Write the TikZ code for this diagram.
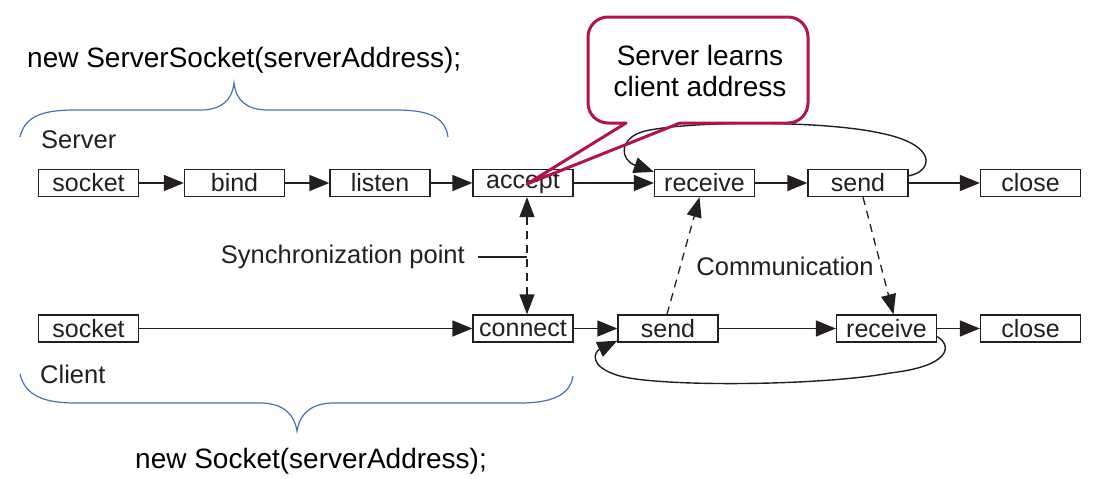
\documentclass[tikz,border=0pt]{standalone}
\usepackage{fontspec}
\setmainfont{Liberation Sans}
\usetikzlibrary{arrows.meta}
\definecolor{ink}{RGB}{35,31,32}
\definecolor{bracecol}{RGB}{68,114,180}
\definecolor{calloutred}{RGB}{178,20,70}
\begin{document}
\begin{tikzpicture}[x=1pt,y=-1pt,
  box/.style={draw=ink, line width=1.3pt, minimum width=100pt, minimum height=27pt, inner sep=0pt, font=\fontsize{25}{28}\selectfont, text=ink},
  flow/.style={ink, line width=1.4pt, -{Triangle[length=20pt,width=16pt]}},
  dflow/.style={ink, line width=1.3pt, dash pattern=on 8pt off 6pt},
  dtip/.tip={Triangle[length=20pt,width=15pt]},
  lbl/.style={font=\fontsize{25.5}{28}\selectfont, text=ink, inner sep=0pt},
  big/.style={font=\fontsize{28}{32}\selectfont, text=black, inner sep=0pt},
  bracestyle/.style={bracecol, line width=1.2pt},
  callout/.style={calloutred, line width=3pt, line join=round},
]
\useasboundingbox (0,0) rectangle (1109,479);

% titles
\node[big, anchor=base west] (ttop) at (27,67) {new ServerSocket(serverAddress);};
\node[big, anchor=base west] (tbot) at (135,468) {new Socket(serverAddress);};

% braces
\draw[bracestyle] (20,137) .. controls (25,115) and (45,110) .. (75,110) -- (200,110)
  .. controls (222,110) and (232,100) .. (234,83)
  .. controls (236,100) and (246,110) .. (268,110) -- (395,110)
  .. controls (425,110) and (445,115) .. (448,137);
\draw[bracestyle] (20,374) .. controls (25,396) and (45,403) .. (75,403) -- (260,403)
  .. controls (282,403) and (294,413) .. (297,431)
  .. controls (300,413) and (312,403) .. (334,403) -- (520,403)
  .. controls (550,403) and (570,396) .. (573,376);

% side labels
\node[lbl, anchor=base west] (lserver) at (41,148) {Server};
\node[lbl, anchor=base west] (lclient) at (40,383) {Client};

% server row
\node[box] (ssock) at (88.5,183) {socket};
\node[box] (sbind) at (234.5,183) {bind};
\node[box] (slisten) at (380,183) {listen};
\node[box] (saccept) at (523,183) {accept};
\node[box] (srecv) at (704.5,183) {receive};
\node[box] (ssend) at (858,183) {send};
\node[box] (sclose) at (1030.5,183) {close};

% client row
\node[box] (csock) at (88.5,328.5) {socket};
\node[box] (cconn) at (523,328.5) {connect};
\node[box] (csend) at (668,328.5) {send};
\node[box] (crecv) at (886.5,328.5) {receive};
\node[box] (cclose) at (1030.5,328.5) {close};

% server flow
\draw[flow] (ssock) -- (sbind);
\draw[flow] (sbind) -- (slisten);
\draw[flow] (slisten) -- (saccept);
\draw[flow] (saccept) -- (srecv);
\draw[flow] (srecv) -- (ssend);
\draw[flow] (ssend) -- (sclose);
\draw[flow] ([yshift=-7pt]ssend.north east)
  .. controls (932,172) and (940,145) .. (880,133)
  .. controls (820,120) and (690,121) .. (645,131)
  .. controls (618,138) and (620,160) .. ([yshift=-3pt]srecv.north west);

% client flow
\draw[flow] (csock) -- (cconn);
\draw[flow] (cconn) -- (csend);
\draw[flow] (csend) -- (crecv);
\draw[flow] (crecv) -- (cclose);
\draw[flow] ([yshift=6pt]crecv.south east)
  .. controls (952,345) and (952,366) .. (890,373)
  .. controls (820,386) and (660,387) .. (620,376)
  .. controls (588,367) and (594,352) .. ([yshift=2pt]csend.south west);

% synchronization
\draw[dflow, {dtip}-{dtip}] ([xshift=4pt]saccept.south) -- ([xshift=4pt]cconn.north);
\node[lbl, anchor=east] (sync) at (465,257) {Synchronization point};
\coordinate (syncj) at (527,257);
\draw[ink, line width=1.3pt] ([xshift=13pt]sync.east) -- (syncj);

% communication
\draw[dflow, -{dtip}] ([xshift=-1pt]csend.north) -- ([xshift=-5pt]srecv.south);
\draw[dflow, -{dtip}] ([xshift=5pt]ssend.south) -- ([xshift=7pt]crecv.north);
\node[lbl] (comm) at (785,266) {Communication};

% callout
\draw[callout] (626,123) -- (608,123) arc[start angle=270, end angle=180, radius=20pt]
  -- (588,37) arc[start angle=180, end angle=90, radius=20pt]
  -- (788,17) arc[start angle=90, end angle=0, radius=20pt]
  -- (808,103) arc[start angle=0, end angle=-90, radius=20pt]
  -- (680,123) -- (527,184) -- cycle;
\node[big, align=center, font=\fontsize{28}{31}\selectfont] (ctext) at (700,71) {Server learns\\client address};
\end{tikzpicture}
\end{document}
